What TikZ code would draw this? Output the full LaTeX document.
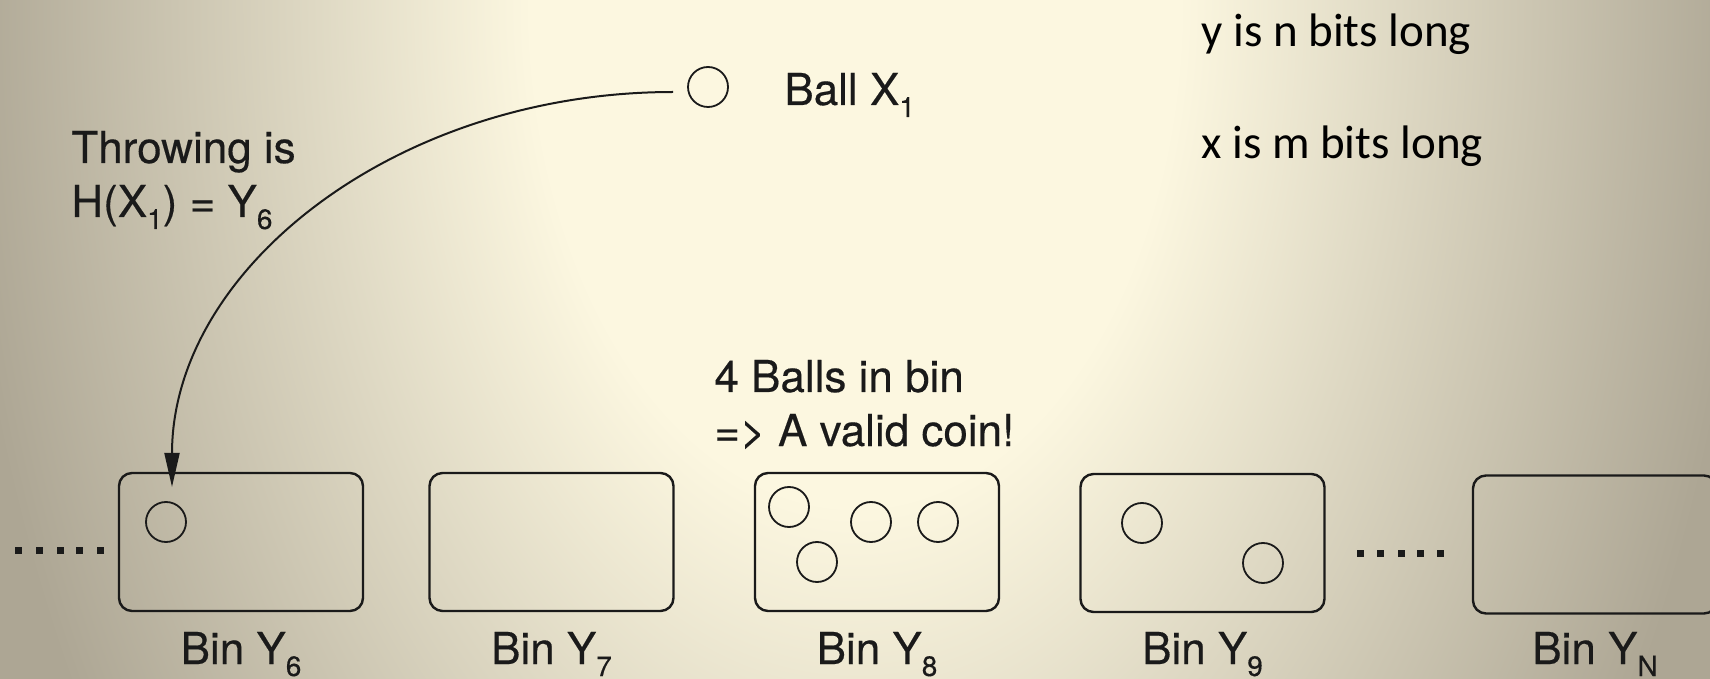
\documentclass[tikz,border=0pt]{standalone}
\usepackage{fontspec}
\setmainfont{TeX Gyre Heros}[FakeBold=0.35]
\newfontfamily\sidefont{Carlito}
\usetikzlibrary{arrows.meta}
\definecolor{bgcream}{HTML}{FCF7E0}
\definecolor{bgdark}{HTML}{ADA694}
\definecolor{ink}{HTML}{1A1A1A}
\pgfdeclareradialshading{slidebg}{\pgfpoint{0bp}{0bp}}{color(0bp)=(bgcream); color(9bp)=(bgcream); color(25bp)=(bgdark); color(50bp)=(bgdark)}
\newcommand{\sbs}[1]{\raisebox{-6pt}{\fontsize{14}{14}\selectfont #1}}
\begin{document}
\begin{tikzpicture}[x=0.5pt, y=-0.5pt,
  bin/.style={draw=ink, line width=1.2pt, rounded corners=6.5pt, minimum width=122pt, minimum height=69pt, inner sep=0pt},
  ballnode/.style={draw=ink, line width=0.9pt, circle, minimum size=20pt, inner sep=0pt},
  lbl/.style={inner sep=0pt, text=ink, font=\fontsize{22}{27}\selectfont},
  side/.style={inner sep=0pt, text=black, font=\sidefont\fontsize{23.5}{28}\selectfont},
  throwline/.style={draw=ink, line width=1pt, -{Triangle[length=17pt, width=7.5pt]}}]

\useasboundingbox (0,0) rectangle (1710,679);
\clip (0,0) rectangle (1710,679);
\shade[shading=slidebg] (-45,-1400) rectangle (1755,1400);

% ball being thrown
\node[ballnode] (ballX) at (708,87) {};
\node[lbl, anchor=base west] (ballXlbl) at (784,105) {Ball X\sbs{1}};

% explanation texts
\node[lbl, anchor=base west] (throwA) at (71,163) {Throwing is};
\node[lbl, anchor=base west] (throwB) at (71,217) {H(X\sbs{1}) = Y\sbs{6}};
\node[lbl, anchor=base west] (coinA) at (714,392) {4 Balls in bin};
\node[lbl, anchor=base west] (coinB) at (714,446) {=> A valid coin!};
\node[side, anchor=base west] (ybits) at (1201,47) {y is n bits long};
\node[side, anchor=base west] (xbits) at (1201,159) {x is m bits long};

% bins
\node[bin] (bin6) at (241,542) {};
\node[bin] (bin7) at (551.5,542) {};
\node[bin] (bin8) at (877,542) {};
\node[bin] (bin9) at (1202.5,543) {};
\node[bin] (binN) at (1595,544.5) {};

\node[lbl, anchor=base] (bin6lbl) at (241,664) {Bin Y\sbs{6}};
\node[lbl, anchor=base] (bin7lbl) at (551.5,664) {Bin Y\sbs{7}};
\node[lbl, anchor=base] (bin8lbl) at (877,664) {Bin Y\sbs{8}};
\node[lbl, anchor=base] (bin9lbl) at (1202.5,664) {Bin Y\sbs{9}};
\node[lbl, anchor=base] (binNlbl) at (1595,664) {Bin Y\sbs{N}};

% balls in bins
\node[ballnode] (b6a) at (166,522) {};
\node[ballnode] (b8a) at (789,507) {};
\node[ballnode] (b8b) at (817,562) {};
\node[ballnode] (b8c) at (871,522) {};
\node[ballnode] (b8d) at (938,522) {};
\node[ballnode] (b9a) at (1142,523) {};
\node[ballnode] (b9b) at (1263,563) {};

% ellipsis dots
\foreach \x in {18,39,60,79,100} \fill[ink] (\x-3.5,547) rectangle (\x+3.5,554);
\foreach \x in {1360,1380,1401,1420,1440} \fill[ink] (\x-3.5,550) rectangle (\x+3.5,557);

% throw connector
\coordinate (throwstart) at ([xshift=-7pt,yshift=-2.5pt]ballX.west);
\coordinate (hit) at (172,487);
\draw[throwline] (throwstart) .. controls +(-277,0) and +(0,-218) .. (hit);
\end{tikzpicture}
\end{document}
